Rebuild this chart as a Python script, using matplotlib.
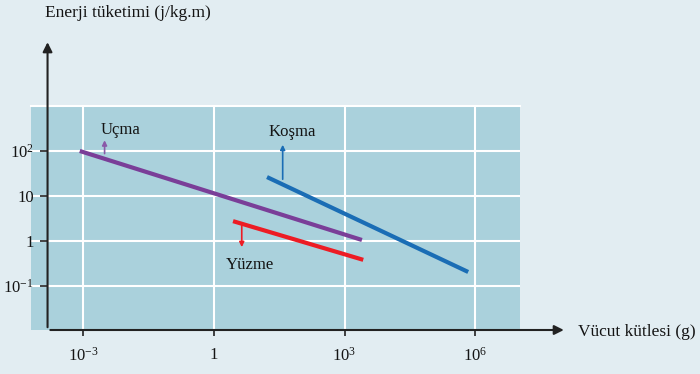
import numpy as np
import matplotlib.pyplot as plt

plt.rcParams['font.family'] = ['Liberation Serif', 'DejaVu Serif']
plt.rcParams['mathtext.fontset'] = 'custom'
plt.rcParams['mathtext.rm'] = 'Liberation Serif'
plt.rcParams['mathtext.it'] = 'Liberation Serif'

# veriler (log-log uçlar)
ucma_x = [10**-3.08, 10**3.40]
ucma_y = [100, 1.05]
kosma_x = [10**1.22, 10**5.84]
kosma_y = [10**1.42, 10**-0.69]
yuzme_x = [10**0.44, 10**3.43]
yuzme_y = [10**0.44, 10**-0.42]

xticks = [1e-3, 1, 1e3, 1e6]
xlabels = ['$10^{-3}$', '1', '$10^{3}$', '$10^{6}$']
yticks = [1e2, 10, 1, 1e-1]
ylabels = ['$10^{2}$', '10', '1', '$10^{-1}$']

bg = '#e2edf2'
panel = '#aad1dc'

fig = plt.figure(figsize=(7, 3.74), dpi=100, facecolor=bg)
ax = fig.add_axes([31/700, 44/374, 489/700, 224/374])
ax.set_facecolor(panel)
ax.set_xscale('log')
ax.set_yscale('log')
ax.set_xlim(10**-4.2, 10**7.03)
ax.set_ylim(10**-1.98, 10**3.0)

for v in xticks:
    ax.axvline(v, color='white', lw=1.5, zorder=1)
for v in yticks:
    ax.axhline(v, color='white', lw=1.5, zorder=1)

ax.plot(ucma_x, ucma_y, color='#7a3e98', lw=3, solid_capstyle='butt', zorder=3)
ax.plot(kosma_x, kosma_y, color='#1a6db5', lw=3, solid_capstyle='butt', zorder=3)
ax.plot(yuzme_x, yuzme_y, color='#ed1c24', lw=3, solid_capstyle='butt', zorder=3)

# etiket okları
ax.annotate('', xy=(10**-2.51, 10**2.3), xytext=(10**-2.51, 10**1.88),
            arrowprops=dict(arrowstyle='-|>', color='#8a5aa8', lw=1.2, mutation_scale=7))
ax.text(10**-2.15, 10**2.47, 'Uçma', ha='center', va='center', fontsize=12, color='#141414')
ax.annotate('', xy=(10**1.58, 10**2.2), xytext=(10**1.58, 10**1.31),
            arrowprops=dict(arrowstyle='-|>', color='#1a6db5', lw=1.2, mutation_scale=7))
ax.text(10**1.79, 10**2.43, 'Koşma', ha='center', va='center', fontsize=12, color='#141414')
ax.annotate('', xy=(10**0.64, 10**-0.2), xytext=(10**0.64, 10**0.42),
            arrowprops=dict(arrowstyle='-|>', color='#ed1c24', lw=1.2, mutation_scale=7))
ax.text(10**0.82, 10**-0.53, 'Yüzme', ha='center', va='center', fontsize=12, color='#141414')

for s in ['right', 'left', 'bottom']:
    ax.spines[s].set_visible(False)
ax.spines['top'].set_color('white')
ax.spines['top'].set_linewidth(1.5)
ax.spines['left'].set_position(('data', 10**-3.82))

ax.set_xticks(xticks)
ax.set_xticklabels(xlabels, fontsize=12, color='#141414')
ax.set_yticks(yticks)
ax.set_yticklabels(ylabels, fontsize=12, color='#141414')
ax.minorticks_off()
ax.tick_params(axis='x', length=4, width=1.2, color='#222222', pad=8)
ax.tick_params(axis='y', length=6, width=1.2, color='#222222', pad=4)

# eksen okları
x0 = 10**-3.82
y0 = 10**-1.98
ax.annotate('', xy=(10**8.1, y0), xytext=(x0, y0), xycoords='data',
            arrowprops=dict(arrowstyle='-|>', color='#222222', lw=1.5, mutation_scale=14),
            annotation_clip=False)
ax.annotate('', xy=(x0, 10**4.48), xytext=(x0, y0),
            arrowprops=dict(arrowstyle='-|>', color='#222222', lw=1.5, mutation_scale=14),
            annotation_clip=False)

fig.text(45/700, 1 - 13/374, 'Enerji tüketimi (j/kg.m)', ha='left', va='center', fontsize=12.5, color='#141414')
fig.text(578/700, 1 - 332/374, 'Vücut kütlesi (g)', ha='left', va='center', fontsize=12.5, color='#141414')

fig.savefig('out.png', dpi=100, facecolor=bg)
